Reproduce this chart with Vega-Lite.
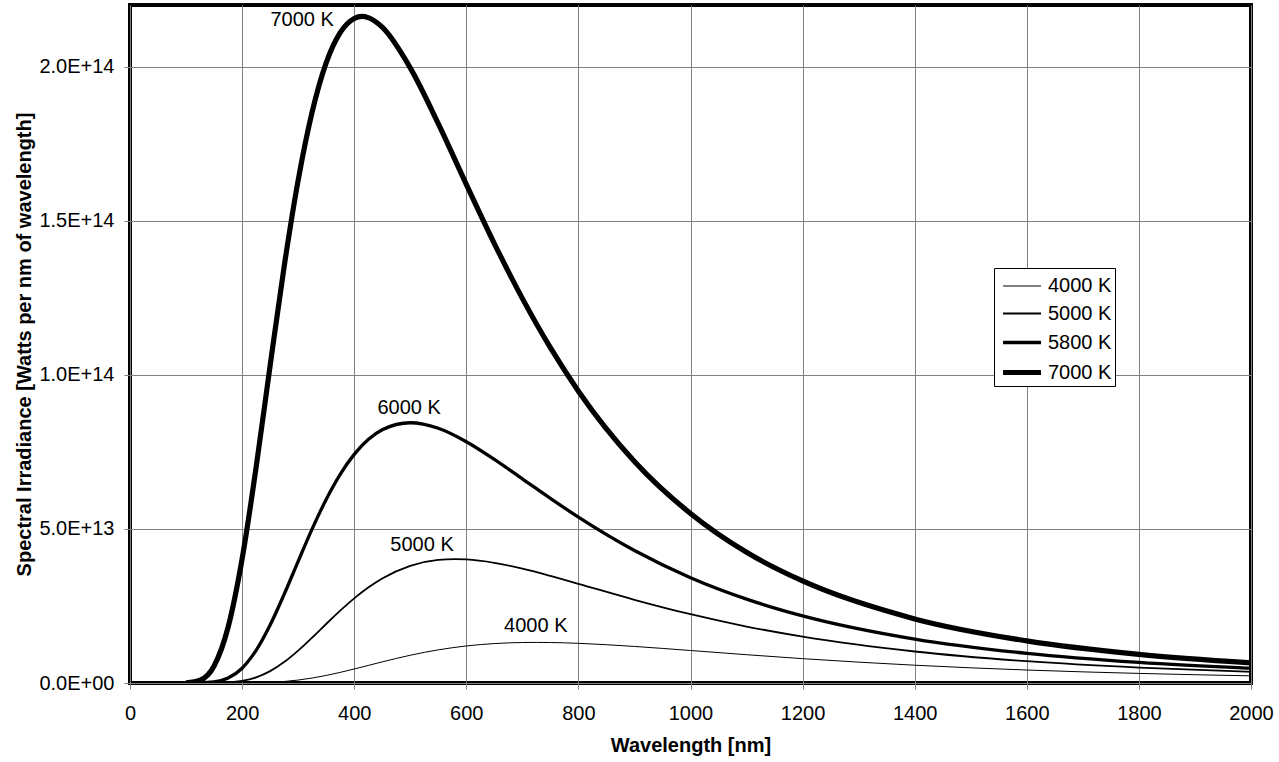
{
  "$schema": "https://vega.github.io/schema/vega-lite/v6.json",
  "width": 1121,
  "height": 678,
  "autosize": {"type": "none"},
  "padding": {"left": 130, "top": 5, "right": 28, "bottom": 79},
  "background": "white",
  "config": {
    "font": "Liberation Sans",
    "view": {"stroke": "black", "strokeWidth": 4},
    "axis": {
      "labelFontSize": 20, "labelColor": "black", "titleFontSize": 20, "titleFontWeight": "bold", "titleColor": "black",
      "gridColor": "#808080", "gridOpacity": 1, "gridWidth": 1, "tickColor": "#808080", "tickSize": 6, "tickWidth": 1, "domain": false
    }
  },
  "datasets": {
    "curves": [
      {"s":"7000 K","w":100,"e":4.43e10},{"s":"7000 K","w":125,"e":8.86e11},{"s":"7000 K","w":150,"e":5.51e12},{"s":"7000 K","w":175,"e":1.808e13},{"s":"7000 K","w":200,"e":4.024e13},{"s":"7000 K","w":225,"e":6.997e13},{"s":"7000 K","w":250,"e":1.030e14},{"s":"7000 K","w":275,"e":1.351e14},{"s":"7000 K","w":300,"e":1.631e14},{"s":"7000 K","w":325,"e":1.853e14},{"s":"7000 K","w":350,"e":2.012e14},{"s":"7000 K","w":375,"e":2.110e14},{"s":"7000 K","w":400,"e":2.156e14},{"s":"7000 K","w":414,"e":2.163e14},{"s":"7000 K","w":425,"e":2.159e14},{"s":"7000 K","w":450,"e":2.128e14},{"s":"7000 K","w":500,"e":1.996e14},{"s":"7000 K","w":550,"e":1.815e14},{"s":"7000 K","w":600,"e":1.618e14},{"s":"7000 K","w":650,"e":1.426e14},{"s":"7000 K","w":700,"e":1.248e14},{"s":"7000 K","w":750,"e":1.088e14},{"s":"7000 K","w":800,"e":9.47e13},{"s":"7000 K","w":900,"e":7.19e13},{"s":"7000 K","w":1000,"e":5.50e13},{"s":"7000 K","w":1100,"e":4.24e13},{"s":"7000 K","w":1200,"e":3.31e13},{"s":"7000 K","w":1400,"e":2.08e13},{"s":"7000 K","w":1600,"e":1.366e13},{"s":"7000 K","w":1800,"e":9.29e12},{"s":"7000 K","w":2000,"e":6.52e12},
      {"s":"5800 K","w":100,"e":6.3e8},{"s":"5800 K","w":125,"e":2.95e10},{"s":"5800 K","w":150,"e":3.24e11},{"s":"5800 K","w":175,"e":1.59e12},{"s":"5800 K","w":200,"e":4.80e12},{"s":"5800 K","w":225,"e":1.057e13},{"s":"5800 K","w":250,"e":1.879e13},{"s":"5800 K","w":275,"e":2.876e13},{"s":"5800 K","w":300,"e":3.948e13},{"s":"5800 K","w":325,"e":5.000e13},{"s":"5800 K","w":350,"e":5.956e13},{"s":"5800 K","w":375,"e":6.770e13},{"s":"5800 K","w":400,"e":7.418e13},{"s":"5800 K","w":425,"e":7.898e13},{"s":"5800 K","w":450,"e":8.216e13},{"s":"5800 K","w":500,"e":8.444e13},{"s":"5800 K","w":550,"e":8.265e13},{"s":"5800 K","w":600,"e":7.830e13},{"s":"5800 K","w":650,"e":7.256e13},{"s":"5800 K","w":700,"e":6.626e13},{"s":"5800 K","w":750,"e":5.991e13},{"s":"5800 K","w":800,"e":5.382e13},{"s":"5800 K","w":900,"e":4.299e13},{"s":"5800 K","w":1000,"e":3.417e13},{"s":"5800 K","w":1100,"e":2.722e13},{"s":"5800 K","w":1200,"e":2.179e13},{"s":"5800 K","w":1400,"e":1.425e13},{"s":"5800 K","w":1600,"e":9.61e12},{"s":"5800 K","w":1800,"e":6.67e12},{"s":"5800 K","w":2000,"e":4.76e12},
      {"s":"5000 K","w":100,"e":1.19e7},{"s":"5000 K","w":125,"e":1.23e9},{"s":"5000 K","w":150,"e":2.30e10},{"s":"5000 K","w":175,"e":1.647e11},{"s":"5000 K","w":200,"e":6.60e11},{"s":"5000 K","w":225,"e":1.811e12},{"s":"5000 K","w":250,"e":3.842e12},{"s":"5000 K","w":275,"e":6.79e12},{"s":"5000 K","w":300,"e":1.051e13},{"s":"5000 K","w":325,"e":1.474e13},{"s":"5000 K","w":350,"e":1.915e13},{"s":"5000 K","w":375,"e":2.347e13},{"s":"5000 K","w":400,"e":2.747e13},{"s":"5000 K","w":425,"e":3.098e13},{"s":"5000 K","w":450,"e":3.393e13},{"s":"5000 K","w":500,"e":3.803e13},{"s":"5000 K","w":550,"e":3.994e13},{"s":"5000 K","w":580,"e":4.020e13},{"s":"5000 K","w":600,"e":4.009e13},{"s":"5000 K","w":650,"e":3.900e13},{"s":"5000 K","w":700,"e":3.710e13},{"s":"5000 K","w":750,"e":3.475e13},{"s":"5000 K","w":800,"e":3.218e13},{"s":"5000 K","w":900,"e":2.700e13},{"s":"5000 K","w":1000,"e":2.231e13},{"s":"5000 K","w":1100,"e":1.832e13},{"s":"5000 K","w":1200,"e":1.504e13},{"s":"5000 K","w":1400,"e":1.022e13},{"s":"5000 K","w":1600,"e":7.08e12},{"s":"5000 K","w":1800,"e":5.02e12},{"s":"5000 K","w":2000,"e":3.64e12},
      {"s":"4000 K","w":100,"e":8.9e3},{"s":"4000 K","w":125,"e":3.9e6},{"s":"4000 K","w":150,"e":1.90e8},{"s":"4000 K","w":175,"e":2.70e9},{"s":"4000 K","w":200,"e":1.81e10},{"s":"4000 K","w":225,"e":7.40e10},{"s":"4000 K","w":250,"e":2.162e11},{"s":"4000 K","w":275,"e":4.96e11},{"s":"4000 K","w":300,"e":9.56e11},{"s":"4000 K","w":325,"e":1.611e12},{"s":"4000 K","w":350,"e":2.452e12},{"s":"4000 K","w":375,"e":3.445e12},{"s":"4000 K","w":400,"e":4.544e12},{"s":"4000 K","w":425,"e":5.696e12},{"s":"4000 K","w":450,"e":6.851e12},{"s":"4000 K","w":500,"e":9.000e12},{"s":"4000 K","w":550,"e":1.0755e13},{"s":"4000 K","w":600,"e":1.2017e13},{"s":"4000 K","w":650,"e":1.2793e13},{"s":"4000 K","w":700,"e":1.3137e13},{"s":"4000 K","w":725,"e":1.3174e13},{"s":"4000 K","w":750,"e":1.3137e13},{"s":"4000 K","w":800,"e":1.2876e13},{"s":"4000 K","w":900,"e":1.1863e13},{"s":"4000 K","w":1000,"e":1.0543e13},{"s":"4000 K","w":1100,"e":9.18e12},{"s":"4000 K","w":1200,"e":7.90e12},{"s":"4000 K","w":1400,"e":5.77e12},{"s":"4000 K","w":1600,"e":4.21e12},{"s":"4000 K","w":1800,"e":3.11e12},{"s":"4000 K","w":2000,"e":2.32e12}
    ],
    "labels": [
      {"w":307,"e":2.151e14,"t":"7000 K"},
      {"w":498,"e":8.93e13,"t":"6000 K"},
      {"w":521,"e":4.49e13,"t":"5000 K"},
      {"w":724,"e":1.86e13,"t":"4000 K"}
    ]
  },
  "encoding": {
    "x": {"field": "w", "type": "quantitative", "scale": {"domain": [0, 2000], "nice": false, "zero": false},
      "axis": {"title": "Wavelength [nm]", "values": [0,200,400,600,800,1000,1200,1400,1600,1800,2000], "format": "d", "labelPadding": 14, "titlePadding": 12, "labelFlush": false}},
    "y": {"field": "e", "type": "quantitative", "scale": {"domain": [0, 2.2e14], "nice": false},
      "axis": {"title": "Spectral Irradiance [Watts per nm of wavelength]", "values": [0, 5e13, 1e14, 1.5e14, 2e14],
        "labelExpr": "datum.value == 0 ? '0.0E+00' : replace(format(datum.value, '.1e'), 'e', 'E')",
        "labelPadding": 10, "titlePadding": 4}}
  },
  "layer": [
    {
      "data": {"name": "curves"},
      "mark": {"type": "line", "color": "black", "interpolate": "monotone", "clip": true},
      "encoding": {
        "strokeWidth": {"field": "s", "type": "nominal",
          "scale": {"type": "ordinal", "domain": ["4000 K", "5000 K", "5800 K", "7000 K"], "range": [1, 1.8, 3.3, 5.2]},
          "legend": {"title": null, "orient": "none", "legendX": 864, "legendY": 263,
            "symbolType": "M-0.79,0H1.83", "symbolSize": 841, "symbolStrokeColor": "black", "symbolFillColor": "transparent",
            "labelFontSize": 20, "labelColor": "black", "labelOffset": 16, "rowPadding": 2,
            "padding": 3, "strokeColor": "black", "fillColor": "white", "cornerRadius": 0}}
      }
    },
    {
      "data": {"name": "labels"},
      "mark": {"type": "text", "fontSize": 20, "color": "black", "align": "center", "baseline": "middle"},
      "encoding": {"text": {"field": "t"}}
    }
  ]
}
